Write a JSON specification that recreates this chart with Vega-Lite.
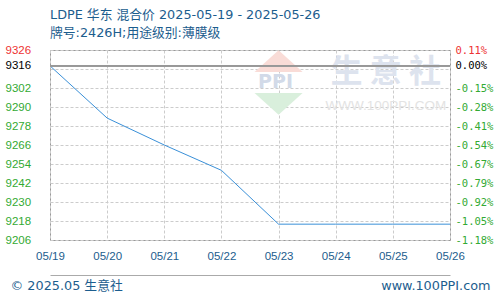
{
  "$schema": "https://vega.github.io/schema/vega-lite/v6.json",
  "width": 400,
  "height": 190,
  "autosize": "none",
  "padding": {"left": 50, "top": 50, "right": 50, "bottom": 60},
  "background": "white",
  "config": {
    "view": {"stroke": "#999999", "strokeWidth": 1},
    "font": "Noto Sans CJK SC"
  },
  "title": {
    "text": "LDPE 华东 混合价 2025-05-19 - 2025-05-26",
    "subtitle": "牌号:2426H;用途级别:薄膜级",
    "anchor": "start",
    "frame": "group",
    "font": "DejaVu Sans, Noto Sans CJK SC",
    "fontSize": 12.8,
    "fontWeight": "normal",
    "color": "#1c5d8e",
    "subtitleFont": "DejaVu Sans, Noto Sans CJK SC",
    "subtitleFontSize": 12.8,
    "subtitleColor": "#1c5d8e",
    "subtitlePadding": 5,
    "offset": 4
  },
  "data": {
    "values": [
      {"date": "2025-05-19", "price": 9316},
      {"date": "2025-05-20", "price": 9283},
      {"date": "2025-05-21", "price": 9266},
      {"date": "2025-05-22", "price": 9250},
      {"date": "2025-05-23", "price": 9216},
      {"date": "2025-05-24", "price": 9216},
      {"date": "2025-05-25", "price": 9216},
      {"date": "2025-05-26", "price": 9216}
    ]
  },
  "resolve": {"axis": {"x": "independent", "y": "independent"}},
  "layer": [
    {
      "data": {"values": [{"label": "生  意  社"}]},
      "mark": {"type": "text", "font": "Noto Sans CJK SC", "fontWeight": "bold", "fontSize": 32, "color": "#dde3ee", "dx": -7},
      "encoding": {
        "x": {"datum": "2025-05-25", "type": "ordinal", "axis": null},
        "y": {"datum": 9312, "type": "quantitative", "axis": null},
        "text": {"field": "label"}
      }
    },
    {
      "data": {"values": [{"label": "WWW.100PPI.COM"}]},
      "mark": {"type": "text", "font": "Liberation Sans", "fontSize": 13.5, "color": "#e3e3e3", "dx": -7},
      "encoding": {
        "x": {"datum": "2025-05-25", "type": "ordinal", "axis": null},
        "y": {"datum": 9290.5, "type": "quantitative", "axis": null},
        "text": {"field": "label"}
      }
    },
    {
      "data": {"values": [{"part": "up"}]},
      "mark": {"type": "point", "filled": true, "shape": "M-1,0.45L1,0.45L0,-0.45Z", "size": 2304, "color": "#f9dcd7", "opacity": 1, "dx": -3},
      "encoding": {
        "x": {"datum": "2025-05-23", "type": "ordinal", "axis": null},
        "y": {"datum": 9319, "type": "quantitative", "axis": null}
      }
    },
    {
      "data": {"values": [{"part": "down"}]},
      "mark": {"type": "point", "filled": true, "shape": "M-1,-0.45L1,-0.45L0,0.45Z", "size": 2304, "color": "#d9efdc", "opacity": 1, "dx": -3},
      "encoding": {
        "x": {"datum": "2025-05-23", "type": "ordinal", "axis": null},
        "y": {"datum": 9292, "type": "quantitative", "axis": null}
      }
    },
    {
      "data": {"values": [{"label": "PPI"}]},
      "mark": {"type": "text", "font": "DejaVu Sans", "fontWeight": "bold", "fontSize": 19, "color": "#d2dae8", "dx": -3},
      "encoding": {
        "x": {"datum": "2025-05-23", "type": "ordinal", "axis": null},
        "y": {"datum": 9305.5, "type": "quantitative", "axis": null},
        "text": {"field": "label"}
      }
    },
    {
      "mark": {"type": "line", "color": "#3a90d8", "strokeWidth": 1},
      "encoding": {
        "x": {
          "field": "date",
          "type": "ordinal",
          "sort": null,
          "scale": {"type": "point", "padding": 0, "domain": ["2025-05-19", "2025-05-20", "2025-05-21", "2025-05-22", "2025-05-23", "2025-05-24", "2025-05-25", "2025-05-26"]},
          "axis": {
            "grid": true,
            "gridColor": "#cccccc",
            "gridDash": [3, 2],
            "gridWidth": 1,
            "domain": false,
            "ticks": false,
            "labelAngle": 0,
            "labelExpr": "replace(slice(datum.value, 5), '-', '/')",
            "labelFont": "Liberation Sans",
            "labelFontSize": 11.5,
            "labelColor": "#1c5d8e",
            "labelPadding": 10,
            "title": "© 2025.05 生意社",
            "titleFont": "DejaVu Sans, Noto Sans CJK SC",
            "titleFontSize": 12.8,
            "titleFontWeight": "normal",
            "titleColor": "#1c5d8e",
            "titleAnchor": "start",
            "titleAlign": "left",
            "titleBaseline": "middle",
            "titleX": -40,
            "titleY": 45
          }
        },
        "y": {
          "field": "price",
          "type": "quantitative",
          "scale": {"domain": [9206, 9326], "nice": false, "zero": false},
          "axis": {
            "values": [9326, 9314, 9302, 9290, 9278, 9266, 9254, 9242, 9230, 9218, 9206],
            "grid": true,
            "gridColor": "#cccccc",
            "gridDash": [3, 2],
            "labels": false,
            "ticks": false,
            "domain": false,
            "title": null
          }
        }
      }
    },
    {
      "mark": {"type": "rule", "color": "#999999", "strokeWidth": 1.3},
      "encoding": {
        "y": {
          "datum": 9316,
          "type": "quantitative",
          "axis": {
            "orient": "left",
            "values": [9326, 9316, 9302, 9290, 9278, 9266, 9254, 9242, 9230, 9218, 9206],
            "format": "d",
            "grid": false,
            "ticks": false,
            "domain": false,
            "labelAlign": "left",
            "labelPadding": 45,
            "labelFont": "Liberation Sans",
            "labelFontSize": 11.5,
            "labelColor": {
              "condition": [
                {"test": "datum.value == 9326", "value": "#ee3333"},
                {"test": "datum.value == 9316", "value": "#000000"}
              ],
              "value": "#33aa33"
            },
            "title": null
          }
        }
      }
    },
    {
      "mark": {"type": "point", "opacity": 0},
      "encoding": {
        "x": {
          "field": "date",
          "type": "ordinal",
          "sort": null,
          "axis": {
            "orient": "bottom",
            "offset": 35,
            "grid": false,
            "labels": false,
            "ticks": false,
            "domain": true,
            "domainColor": "#aaaaaa",
            "domainWidth": 1,
            "title": "www.100PPI.com",
            "titleFont": "DejaVu Sans",
            "titleFontSize": 12.8,
            "titleFontWeight": "normal",
            "titleColor": "#1c5d8e",
            "titleAnchor": "end",
            "titleAlign": "right",
            "titleBaseline": "middle",
            "titleX": 440,
            "titleY": 10
          }
        },
        "y": {
          "field": "price",
          "type": "quantitative",
          "axis": {
            "orient": "right",
            "values": [9326, 9316, 9302, 9290, 9278, 9266, 9254, 9242, 9230, 9218, 9206],
            "grid": false,
            "ticks": false,
            "domain": false,
            "labelPadding": 5,
            "labelFont": "DejaVu Sans Mono",
            "labelFontSize": 10.5,
            "labelExpr": "(datum.value < 9316 ? '-' : '') + format(abs((datum.value - 9316) / 9316 * 100), '.2f') + '%'",
            "labelColor": {
              "condition": [
                {"test": "datum.value == 9326", "value": "#ee3333"},
                {"test": "datum.value == 9316", "value": "#000000"}
              ],
              "value": "#33aa33"
            },
            "title": null
          }
        }
      }
    }
  ]
}
